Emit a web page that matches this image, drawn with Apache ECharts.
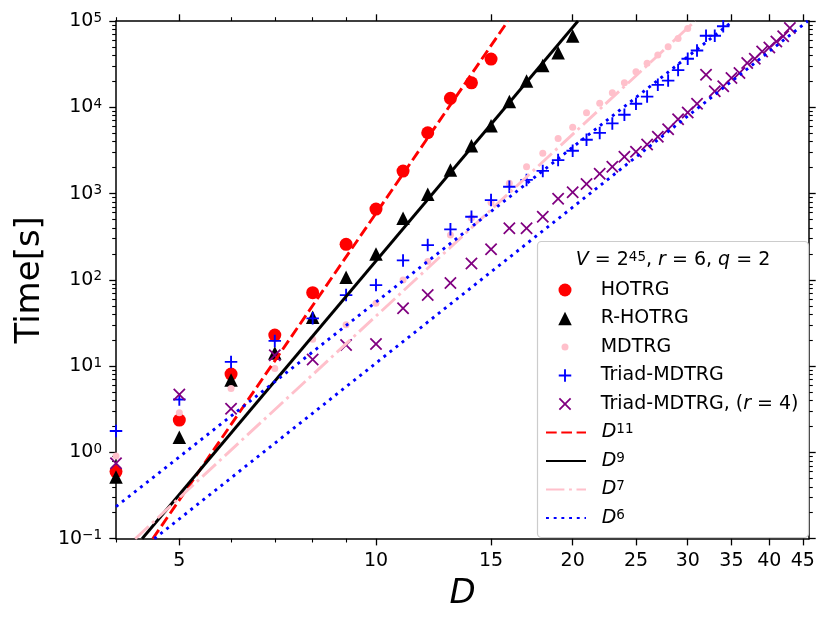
<!DOCTYPE html>
<html><head><meta charset="utf-8">
<script src="https://cdn.jsdelivr.net/npm/echarts@6/dist/echarts.min.js"></script>
<style>html,body{margin:0;padding:0;background:#fff}#c{width:831px;height:627px}</style>
</head><body><div id="c"></div>
<script>
// ---- data ----
const hotrgD = [4,5,6,7,8,9,10,11,12,13,14,15];
const hotrgT = [0.60,2.37,8.1,22.9,71,258,661,1823,5070,12700,19200,36200];

const rhotrgD = [4,5,6,7,8,9,10,11,12,13,14,15,16,17,18,19,20];
const rhotrgT = [0.52,1.50,6.9,14.2,36.8,107,199,516,979,1872,3580,6100,11700,20200,30400,43000,67000];

const mdtrgD = [4,5,6,7,8,9,10,11,12,13,14,15,16,17,18,19,20,21,22,23,24,25,26,27,28,29,30];
const mdtrgT = [0.91,2.88,5.5,9.4,20.5,30.2,53.6,99.5,163,331,520,790,1313,2045,2925,4360,5850,8630,11100,14700,19200,25800,32300,40300,50200,62800,82000];

const triadD = [4,5,6,7,8,9,10,11,12,13,14,15,16,17,18,19,20,21,22,23,24,25,26,27,28,29,30,31,32,33,34];
const triadT = [1.77,4.1,11.2,19.6,35.8,66.6,87,168,253,385,538,840,1200,1440,1830,2445,3130,4200,5050,6500,8200,11000,13300,18200,20400,27000,36500,45500,67500,67500,87000];

const triad4D = [4,5,6,7,8,9,10,11,12,13,14,15,16,17,18,19,20,21,22,23,24,25,26,27,28,29,30,31,32,33,34,35,36,37,38,39,40,41,42,43];
const triad4T = [0.75,4.7,3.2,13.4,11.9,17.6,18.0,46.8,66.6,92,155,227,395,395,538,870,1035,1290,1700,2045,2670,3050,3700,4550,5550,7250,8700,11000,23800,15300,17500,21800,24900,32500,36500,44400,49400,58000,66400,82800];

// guide lines: endpoints where each line meets the frame
const lineD11 = [[4.553,0.1],[15.92,1e5]];
const lineD9  = [[4.385,0.1],[20.38,1e5]];
const lineD7  = [[4.28,0.1],[30.8,1e5]];
const lineD6a = [[4,0.235],[35.2,1e5]];
const lineD6b = [[4.578,0.1],[45.8,1e5]];

// ticks
const xTickLabels = [5,10,15,20,25,30,35,40,45];
const xMinorTicks = [4,6,7,8,9];
const yMajorTicks = [0.1,1,10,100,1000,10000,100000];
const yMinorTicks = [0.2,0.3,0.4,0.5,0.6,0.7,0.8,0.9,2,3,4,5,6,7,8,9,20,30,40,50,60,70,80,90,
  200,300,400,500,600,700,800,900,2000,3000,4000,5000,6000,7000,8000,9000,20000,30000,40000,50000,60000,70000,80000,90000];

// ---- chart ----
const FONT = 'DejaVu Sans';
const chart = echarts.init(document.getElementById('c'), null, {renderer:'canvas'});
const zip = (a,b) => a.map((v,i)=>[v,b[i]]);
const PLUS = 'path://M8.5,0H11.5V8.5H20V11.5H11.5V20H8.5V11.5H0V8.5H8.5Z';
const CROSS = 'path://M0,2L2,0L10,8L18,0L20,2L12,10L20,18L18,20L10,12L2,20L0,18L8,10Z';

const supRich = {
  sup: {fontSize:13.5, fontFamily:FONT, lineHeight:8, verticalAlign:'top', color:'#000'},
  i: {fontSize:19, fontFamily:FONT, fontStyle:'italic', lineHeight:20, color:'#000'}
};

function xAxisCfg(pos, major, show){
  return {
    type:'log', logBase:10, min:4, max:46, position:pos, gridIndex:0,
    splitLine:{show:false},
    axisLine:{show:show, onZero:false, lineStyle:{color:'#000', width:1.5}},
    axisTick:{show:true, inside:false, length: major?6.7:3.8,
      customValues: major ? xTickLabels : xMinorTicks,
      lineStyle:{color:'#000', width: major?1.3:1.1}},
    axisLabel:{show:false}
  };
}
function yAxisCfg(pos, major, show){
  return {
    type:'log', logBase:10, min:0.1, max:1e5, position:pos, gridIndex:0,
    splitLine:{show:false},
    axisLine:{show:show, onZero:false, lineStyle:{color:'#000', width:1.5}},
    axisTick:{show:true, inside:false, length: major?6.7:3.8,
      customValues: major ? yMajorTicks : yMinorTicks,
      lineStyle:{color:'#000', width: major?1.3:1.1}},
    axisLabel:{show:false}
  };
}

const xAxes = [xAxisCfg('bottom',true,true), xAxisCfg('bottom',false,false), xAxisCfg('top',true,true), xAxisCfg('top',false,false)];
xAxes[0].axisLabel = {show:true, customValues:xTickLabels, margin:13, fontSize:19, fontFamily:FONT, color:'#000'};
xAxes[0].name = 'D';
xAxes[0].nameLocation = 'middle';
xAxes[0].nameGap = 38;
xAxes[0].nameTextStyle = {fontSize:34, fontStyle:'italic', fontFamily:FONT, color:'#000'};

const yAxes = [yAxisCfg('left',true,true), yAxisCfg('left',false,false), yAxisCfg('right',true,true), yAxisCfg('right',false,false)];
yAxes[0].axisLabel = {show:true, customValues:yMajorTicks, margin:14, fontSize:19, lineHeight:20, fontFamily:FONT, color:'#000',
  formatter: v => { const e = Math.round(Math.log10(v)); return '10{sup|' + (e<0 ? '\u2212'+(-e) : e) + '}'; },
  rich: supRich};
yAxes[0].name = 'Time[s]';
yAxes[0].nameLocation = 'middle';
yAxes[0].nameGap = 68;
yAxes[0].nameRotate = 90;
yAxes[0].nameTextStyle = {fontSize:34, fontFamily:FONT, color:'#000'};

function scatter(name, data, symbol, size, color){
  return {type:'scatter', name, data, symbol, symbolSize:size, symbolKeepAspect:true, xAxisIndex:0, yAxisIndex:0,
    itemStyle:{color, opacity:1}, silent:true, emphasis:{disabled:true}};
}
function line(name, data, color, dash){
  return {type:'line', name, data, symbol:'none', showSymbol:false, xAxisIndex:0, yAxisIndex:0,
    lineStyle:{color, width:2.9, type:dash, cap:'butt'}, itemStyle:{color}, silent:true, emphasis:{disabled:true}, z:3};
}

const series = [
  scatter('HOTRG', zip(hotrgD,hotrgT), 'circle', 13, '#ff0000'),
  scatter('R-HOTRG', zip(rhotrgD,rhotrgT), 'triangle', 13.5, '#000000'),
  scatter('MDTRG', zip(mdtrgD,mdtrgT), 'circle', 7, '#ffc0cb'),
  scatter('Triad-MDTRG', zip(triadD,triadT), PLUS, 12.5, '#0000ff'),
  scatter('Triad4', zip(triad4D,triad4T), CROSS, 12.5, '#800080'),
  line('D11', lineD11, '#ff0000', [10.7,4.6]),
  line('D9', lineD9, '#000000', 'solid'),
  line('D7', lineD7, '#ffc0cb', [18.4,4.6,2.9,4.6]),
  line('D6', lineD6a, '#0000ff', [2.9,4.8]),
  line('D6', lineD6b, '#0000ff', [2.9,4.8])
];

const legendNames = {
  'HOTRG':'HOTRG', 'R-HOTRG':'R-HOTRG', 'MDTRG':'MDTRG', 'Triad-MDTRG':'Triad-MDTRG',
  'Triad4':'Triad-MDTRG, ({i|r} = 4)',
  'D11':'{i|D}{sup|11}', 'D9':'{i|D}{sup|9}', 'D7':'{i|D}{sup|7}', 'D6':'{i|D}{sup|6}'
};
// [name, symbol size (0 = line handle)]
const legendItems = [
  ['HOTRG',13],['R-HOTRG',13.5],['MDTRG',7],['Triad-MDTRG',12.5],['Triad4',12.5],
  ['D11',0],['D9',0],['D7',0],['D6',0]
];
const legendCenters = [290,318.5,347,375.5,404,432.5,461,489.5,518];
const ICON_CX = 565, TEXT_X = 600.7, HANDLE = 40;
const legends = legendItems.map((it,k)=>{
  const isLine = it[1] === 0;
  const w = isLine ? HANDLE : it[1];
  const h = isLine ? 2 : it[1];
  const left = ICON_CX - w/2;
  const pad = TEXT_X - (left + w + 5);
  const L = {
    orient:'vertical', left:left, top: legendCenters[k]-10, padding:0, itemGap:0,
    itemWidth:w, itemHeight:h, symbolKeepAspect:true, selectedMode:false, data:[it[0]],
    formatter: n => legendNames[n],
    textStyle:{fontFamily:FONT, fontSize:19, color:'#000', lineHeight:20, padding:[0,0,0,pad], rich:supRich}
  };
  if (isLine) L.itemStyle = {opacity:0};
  return L;
});

chart.setOption({
  animation:false,
  backgroundColor:'#ffffff',
  textStyle:{fontFamily:FONT},
  grid:{left:116, top:21, width:693, height:517.7, containLabel:false},
  xAxis:xAxes,
  yAxis:yAxes,
  legend:legends,
  graphic:[
    {type:'rect', z:3, shape:{x:537.5, y:241.5, width:271, height:296, r:4},
      style:{fill:'rgba(255,255,255,0.8)', stroke:'#cccccc', lineWidth:1.2}, silent:true},
    {type:'text', z:5, x:673, y:260, silent:true,
      style:{text:'{i|V} = 2{sup|45}, {i|r} = 6, {i|q} = 2', rich:supRich, fontSize:19, fontFamily:FONT,
        lineHeight:20, fill:'#000', align:'center', verticalAlign:'middle'}}
  ],
  series
});
</script></body></html>
